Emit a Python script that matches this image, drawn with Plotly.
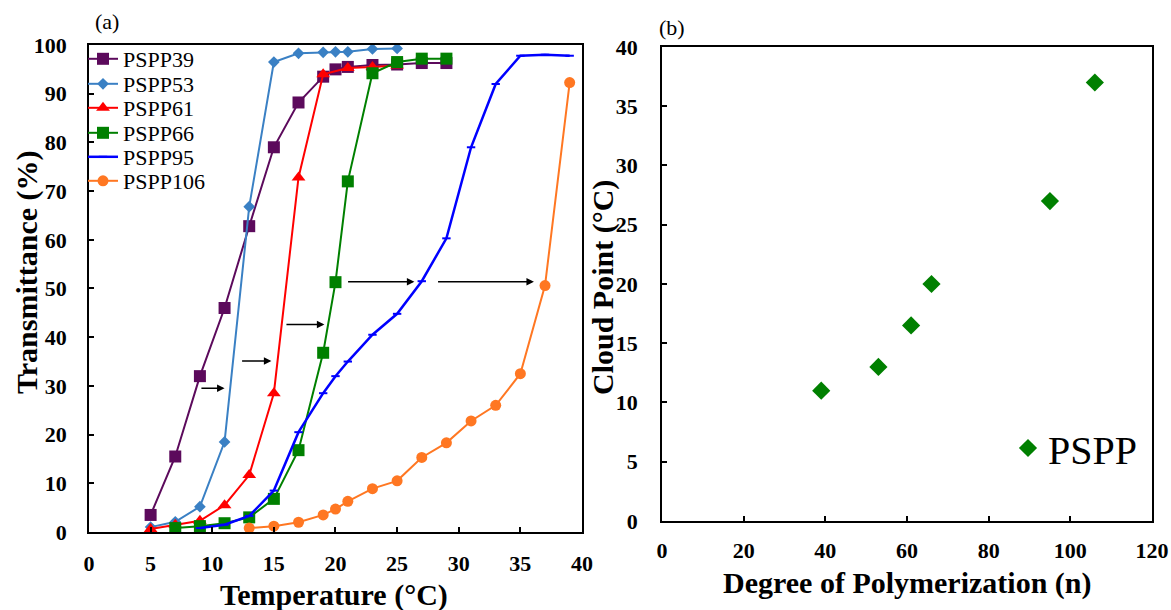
import plotly.graph_objects as go

# ---------------- data: panel (a) ----------------
T39 = [5, 7, 9, 11, 13, 15, 17, 19, 20, 21, 23, 25, 27, 29]
Y39 = [3.5, 15.5, 32, 46, 62.8, 79, 88.2, 93.5, 95, 95.5, 95.9, 96, 96.3, 96.3]

T53 = [5, 7, 9, 11, 13, 15, 17, 19, 20, 21, 23, 25]
Y53 = [1, 2.1, 5.2, 18.5, 66.8, 96.5, 98.3, 98.5, 98.6, 98.6, 99.2, 99.3]

T61 = [5, 7, 9, 11, 13, 15, 17, 19, 21, 23, 25]
Y61 = [0.6, 1.5, 2.3, 5.5, 11.7, 28.5, 72.8, 94, 95.3, 95.5, 95.8]

T66 = [7, 9, 11, 13, 15, 17, 19, 20, 21, 23, 25, 27, 29]
Y66 = [0.8, 1.2, 1.8, 3, 6.8, 16.8, 36.8, 51.3, 72, 94.2, 96.5, 97.2, 97.2]

T95 = [9, 11, 13, 15, 17, 19, 20, 21, 23, 25, 27, 29, 31, 33, 35, 37, 39]
Y95 = [0.8, 1.5, 3.3, 8.5, 20.5, 28.5, 32, 35, 40.5, 44.8, 51.5, 60.3, 79, 92, 97.8, 98, 97.8]

T106 = [13, 15, 17, 19, 20, 21, 23, 25, 27, 29, 31, 33, 35, 37, 39]
Y106 = [0.8, 1.2, 2, 3.5, 4.7, 6.3, 8.9, 10.5, 15.3, 18.3, 22.8, 26, 32.5, 50.6, 92.3]

# arrows in panel (a): (x_start, x_end, y)
ARROWS = [(9.0, 11.0, 29.5), (12.3, 14.8, 35.1), (15.9, 19.1, 42.6),
          (20.9, 26.4, 51.4), (28.2, 36.1, 51.4)]

# tick values
XTICKS_A = [0, 5, 10, 15, 20, 25, 30, 35, 40]
YTICKS_A = [0, 10, 20, 30, 40, 50, 60, 70, 80, 90, 100]
XTICKS_B = [0, 20, 40, 60, 80, 100, 120]
YTICKS_B = [0, 5, 10, 15, 20, 25, 30, 35, 40]

# ---------------- data: panel (b) ----------------
DP = [39, 53, 61, 66, 95, 106]
CP = [11, 13, 16.5, 20, 27, 37]

SERIF = "Liberation Serif"

fig = go.Figure()

series = [
    ("PSPP39", T39, Y39, "#5c0a5c", "square", 12),
    ("PSPP53", T53, Y53, "#3a80c4", "diamond", 9),
    ("PSPP61", T61, Y61, "#ff0000", "triangle-up", 12),
    ("PSPP66", T66, Y66, "#008000", "square", 12),
    ("PSPP95", T95, Y95, "#0000ff", "line-ew", 6),
    ("PSPP106", T106, Y106, "#ff7722", "circle", 11),
]

for i, (name, xs, ys, col, sym, sz) in enumerate(series):
    lg = "legend" if i == 0 else f"legend{i+1}"
    fig.add_trace(go.Scatter(
        x=xs, y=ys, name=name, mode="lines+markers", showlegend=True,
        line=dict(color=col, width=2.5 if name == "PSPP95" else 2),
        marker=dict(symbol=sym, size=sz, color=col,
                    line=dict(color=col, width=2 if sym == "line-ew" else 0)),
        xaxis="x", yaxis="y", legend=lg))

fig.add_trace(go.Scatter(
    x=DP, y=CP, name="PSPP", mode="markers", showlegend=True,
    marker=dict(symbol="diamond", size=14, color="#008000"),
    xaxis="x2", yaxis="y2", legend="legend7"))


def bold(vals):
    return [f"<b>{v}</b>" for v in vals]


tickfont = dict(family=SERIF, size=22, color="black", weight="bold")
axcommon = dict(showgrid=False, zeroline=False, showline=True, linecolor="black",
                linewidth=1.5, mirror=True, ticks="inside", ticklen=5,
                tickcolor="black", tickwidth=1.5, tickfont=tickfont, automargin=False,
                tickmode="array")

lay = dict(
    width=1171, height=610, paper_bgcolor="white", plot_bgcolor="white",
    margin=dict(l=0, r=0, t=0, b=0, autoexpand=False), showlegend=True,
    xaxis=dict(domain=[0.0760, 0.4970], range=[0, 40], tickvals=XTICKS_A,
               ticktext=bold(XTICKS_A), ticklabelstandoff=11, anchor="y", **axcommon),
    yaxis=dict(domain=[0.1279, 0.9262], range=[0, 100], tickvals=YTICKS_A,
               ticktext=bold(YTICKS_A), ticklabelstandoff=16, anchor="x", **axcommon),
    xaxis2=dict(domain=[0.5653, 0.9838], range=[0, 120], tickvals=XTICKS_B,
                ticktext=bold(XTICKS_B), ticklabelstandoff=9, anchor="y2", **axcommon),
    yaxis2=dict(domain=[0.1459, 0.9230], range=[0, 40], tickvals=YTICKS_B,
                ticktext=bold(YTICKS_B), ticklabelstandoff=18, anchor="x2", **axcommon),
)

# one legend box per entry for exact vertical spacing
leg_y_px = [59, 84, 108, 133, 157, 181]
for i, ypx in enumerate(leg_y_px):
    key = "legend" if i == 0 else f"legend{i+1}"
    lay[key] = dict(x=83 / 1171, y=1 - ypx / 610, xanchor="left", yanchor="middle",
                    bgcolor="rgba(0,0,0,0)", borderwidth=0, visible=True,
                    font=dict(family=SERIF, size=22, color="black"))
lay["legend7"] = dict(x=1008 / 1171, y=1 - 448 / 610, xanchor="left", yanchor="middle",
                      bgcolor="rgba(0,0,0,0)", borderwidth=0, visible=True,
                      font=dict(family=SERIF, size=40, color="black"))

fig.update_layout(**lay)

annos = []
for x0, x1, yv in ARROWS:
    annos.append(dict(x=x1, y=yv, ax=x0, ay=yv, xref="x", yref="y", axref="x", ayref="y",
                      showarrow=True, arrowhead=2, arrowsize=1, arrowwidth=1.5,
                      arrowcolor="black", text=""))

titlefont = dict(family=SERIF, size=30, color="black", weight="bold")
annos += [
    dict(text="Temperature (°C)", x=334 / 1171, y=1 - 595 / 610, xref="paper", yref="paper",
         showarrow=False, font=titlefont, xanchor="center", yanchor="middle"),
    dict(text="Transmittance (%)", x=27 / 1171, y=1 - 272 / 610, xref="paper", yref="paper",
         showarrow=False, font=titlefont, textangle=-90, xanchor="center", yanchor="middle"),
    dict(text="Degree of Polymerization (n)", x=907 / 1171, y=1 - 583 / 610, xref="paper",
         yref="paper", showarrow=False, font=titlefont, xanchor="center", yanchor="middle"),
    dict(text="Cloud Point (°C)", x=603 / 1171, y=1 - 288 / 610, xref="paper", yref="paper",
         showarrow=False, font=titlefont, textangle=-90, xanchor="center", yanchor="middle"),
    dict(text="(a)", x=107 / 1171, y=1 - 22 / 610, xref="paper", yref="paper", showarrow=False,
         font=dict(family=SERIF, size=22, color="black"), xanchor="center", yanchor="middle"),
    dict(text="(b)", x=672 / 1171, y=1 - 27 / 610, xref="paper", yref="paper", showarrow=False,
         font=dict(family=SERIF, size=22, color="black"), xanchor="center", yanchor="middle"),
]
fig.update_layout(annotations=annos)

fig.write_html("out.html")
